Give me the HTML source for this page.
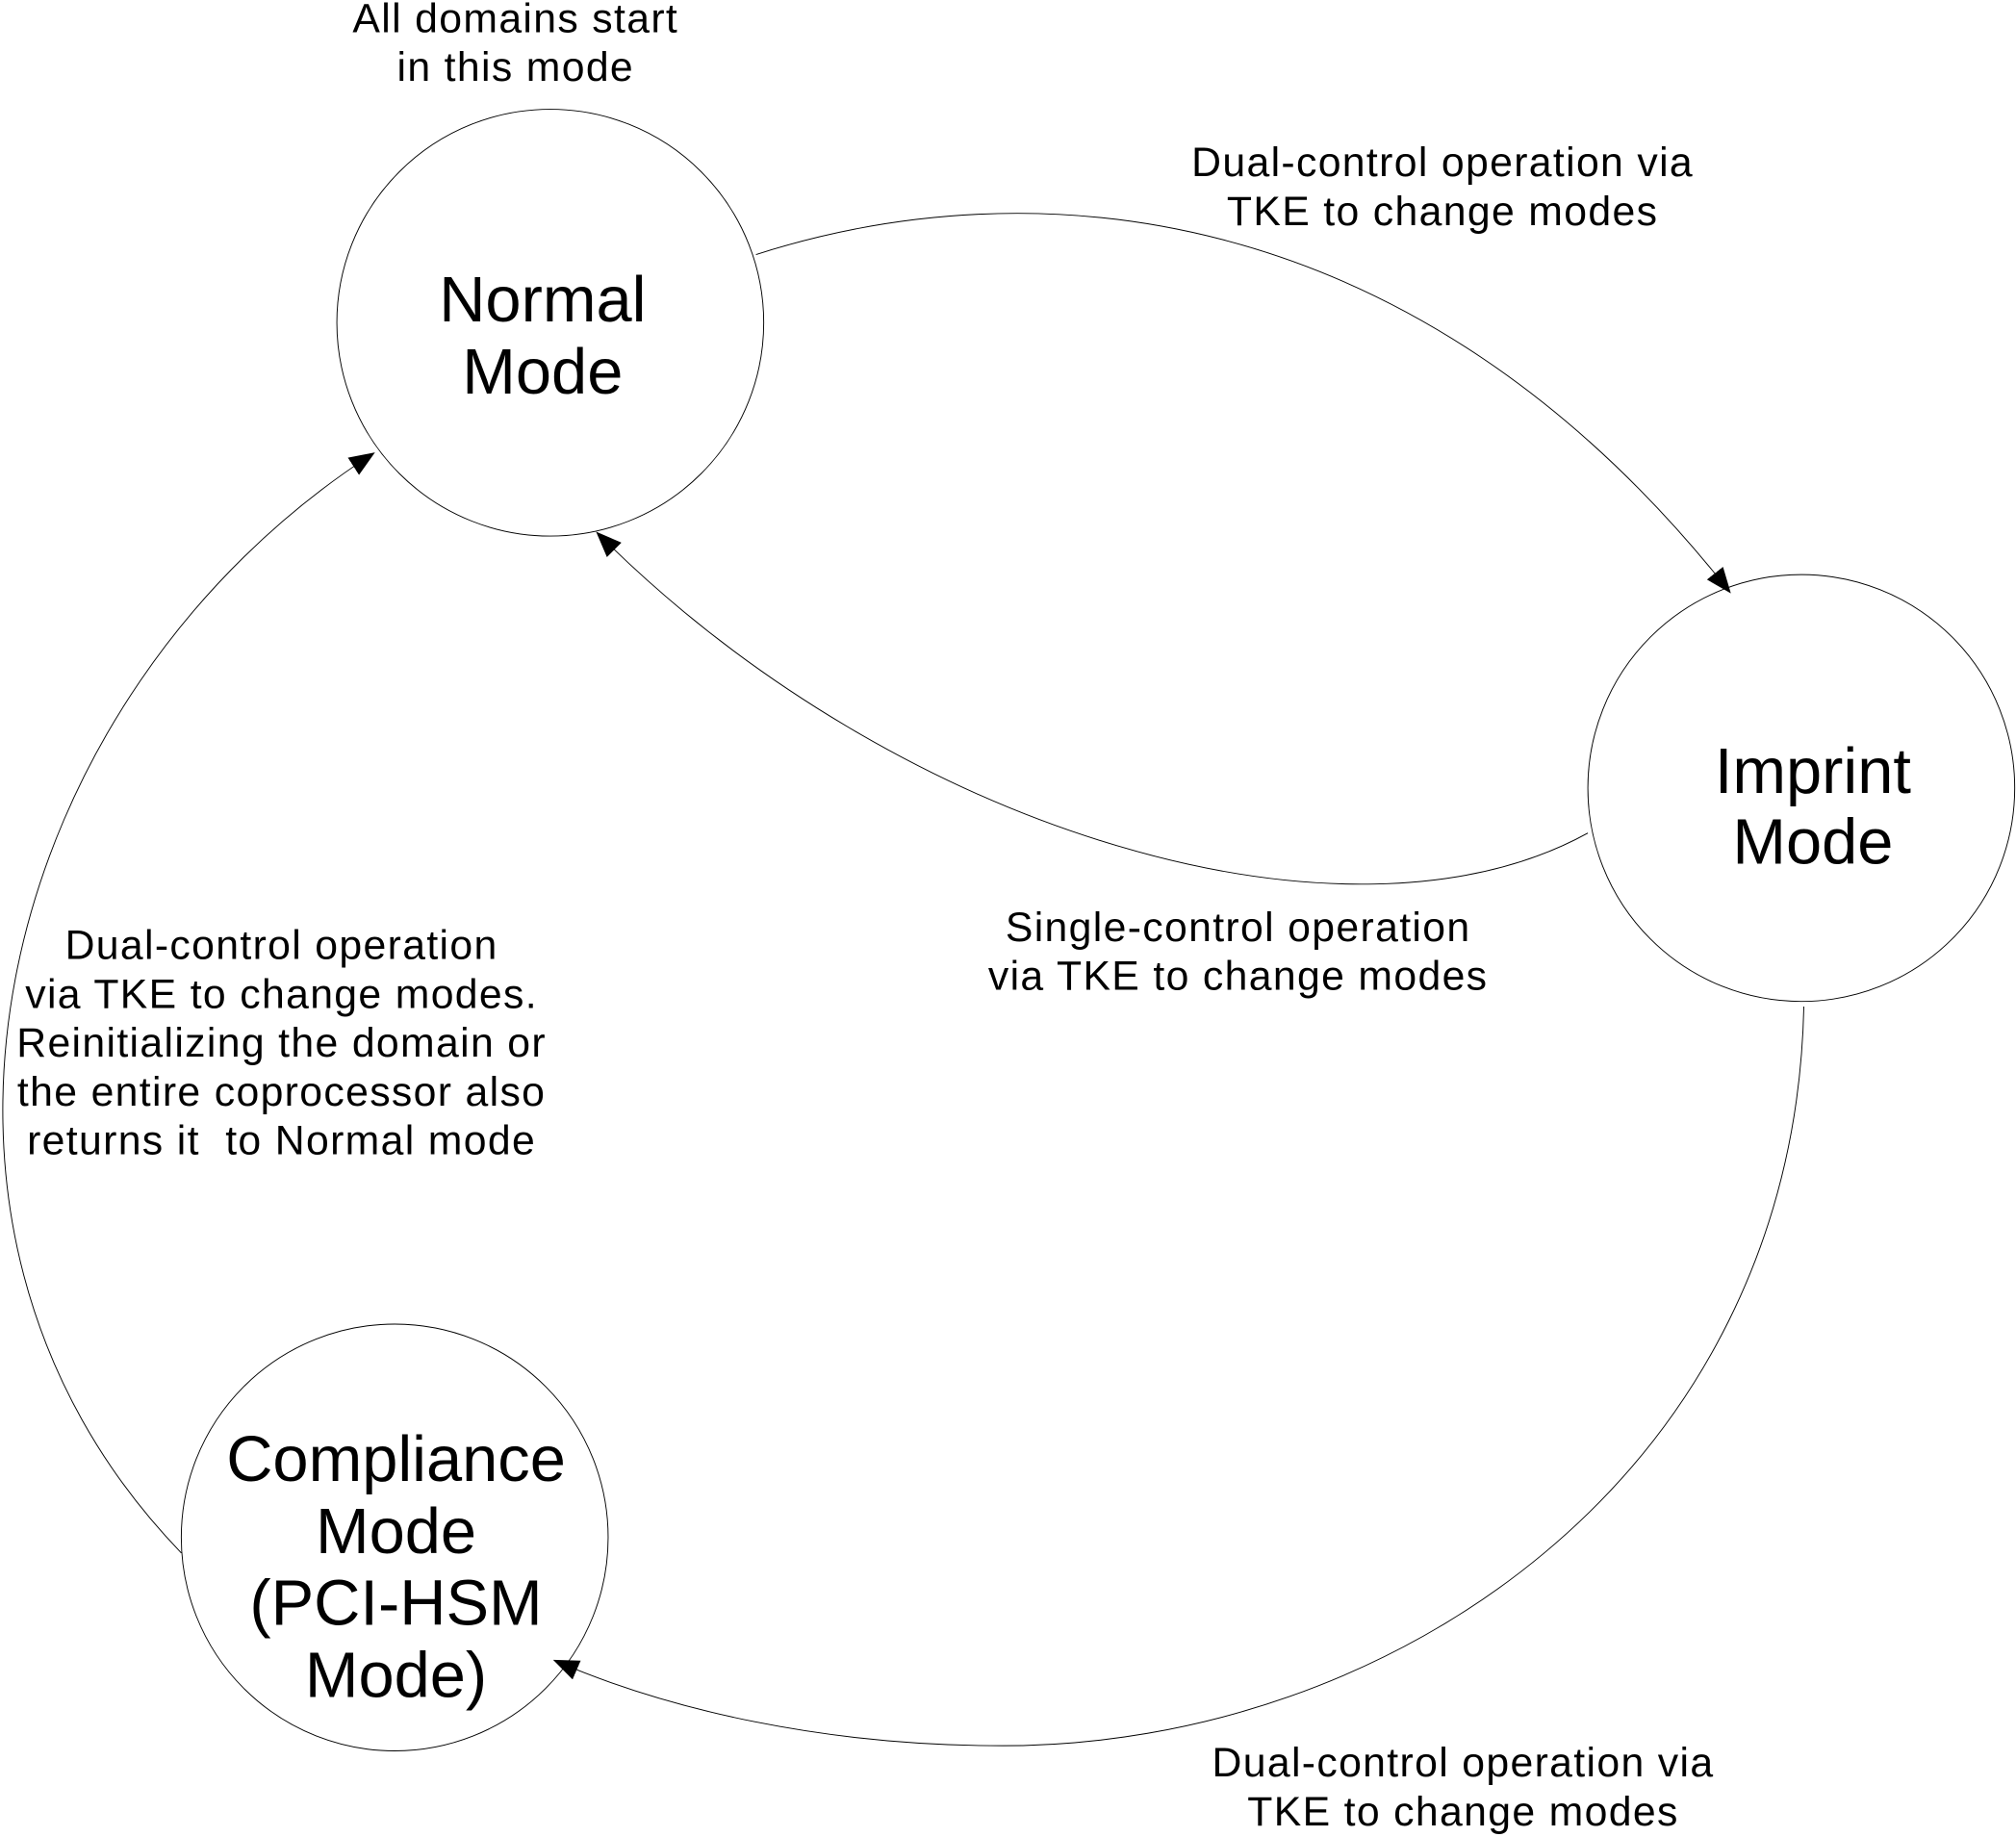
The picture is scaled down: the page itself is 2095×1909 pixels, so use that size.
<!DOCTYPE html>
<html>
<head>
<meta charset="utf-8">
<style>
html,body{margin:0;padding:0;background:#fff;}
svg{display:block;}
text{font-family:"Liberation Sans",Arial,sans-serif;fill:#000;}
</style>
</head>
<body>
<svg width="2095" height="1909" viewBox="0 0 1568 1429" preserveAspectRatio="none" xmlns="http://www.w3.org/2000/svg">
<defs>
<marker id="ah" markerWidth="20" markerHeight="16" refX="18" refY="8" orient="auto" markerUnits="userSpaceOnUse">
<path d="M0,0 L20,8 L0,16 z" fill="#000"/>
</marker>
</defs>
<g fill="none" stroke="#000" stroke-width="0.7">
<circle cx="428" cy="251" r="166"/>
<circle cx="1401" cy="613" r="166"/>
<circle cx="307" cy="1196" r="166"/>
<path d="M588,198 C800,130 1100,150 1345,460" marker-end="url(#ah)"/>
<path d="M1235,648 C1050,750 700,650 465,415" marker-end="url(#ah)"/>
<path d="M1403,783 C1395,1150 1080,1358 780,1358 C640,1358 520,1330 432,1292" marker-end="url(#ah)"/>
<path d="M141,1208 C-108,950 0,540 290,353" marker-end="url(#ah)"/>
</g>
<g font-size="50" text-anchor="middle">
<text x="422" y="250">Normal</text>
<text x="422" y="306">Mode</text>
<text x="1410" y="617">Imprint</text>
<text x="1410" y="672">Mode</text>
<text x="308" y="1152">Compliance</text>
<text x="308" y="1208">Mode</text>
<text x="308" y="1264">(PCI-HSM</text>
<text x="308" y="1320">Mode)</text>
</g>
<g font-size="32" text-anchor="middle" letter-spacing="1">
<text x="401" y="25">All domains start</text>
<text x="401" y="63">in this mode</text>
<text x="1122" y="137">Dual-control operation via</text>
<text x="1122" y="175">TKE to change modes</text>
<text x="963" y="732">Single-control operation</text>
<text x="963" y="770">via TKE to change modes</text>
<text x="219" y="746">Dual-control operation</text>
<text x="219" y="784">via TKE to change modes.</text>
<text x="219" y="822">Reinitializing the domain or</text>
<text x="219" y="860">the entire coprocessor also</text>
<text x="219" y="898" xml:space="preserve">returns it  to Normal mode</text>
<text x="1138" y="1382">Dual-control operation via</text>
<text x="1138" y="1420">TKE to change modes</text>
</g>
</svg>
</body>
</html>
